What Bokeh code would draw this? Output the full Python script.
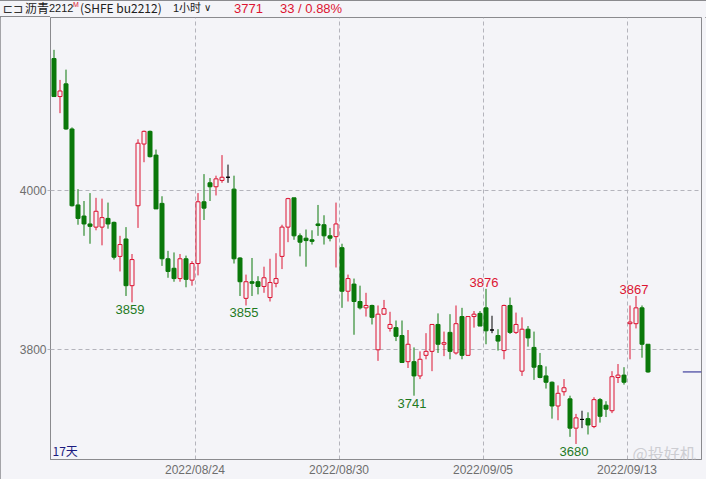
from bokeh.plotting import figure
from bokeh.models import Range1d, FixedTicker, ColumnDataSource, Label, Div
from bokeh.layouts import column
from bokeh.core.properties import value
from bokeh.embed import file_html
from bokeh.resources import INLINE

# ---------------- data (hourly bars, SHFE bu2212) ----------------
opens  = [4167, 4119, 4135, 4078, 3982, 3968, 3958, 3954, 3954, 3965,
          3960, 3917, 3939, 3880, 3981, 4059, 4075, 4045, 3984, 3914,
          3902, 3889, 3914, 3887, 3908, 3986, 4010, 4005, 4013, 4017,
          4002, 3915, 3864, 3885, 3885, 3879, 3865, 3883, 3917, 3954,
          3991, 3943, 3940, 3938, 3958, 3957, 3943, 3942, 3928, 3873,
          3882, 3860, 3852, 3855, 3799, 3844, 3826, 3827, 3817, 3784,
          3784, 3766, 3792, 3797, 3831, 3806, 3821, 3795, 3841, 3792,
          3841, 3845, 3852, 3824, 3817, 3798, 3855, 3821, 3772, 3825,
          3802, 3779, 3766, 3758, 3728, 3746, 3737, 3700, 3711, 3712,
          3702, 3736, 3729, 3722, 3764, 3767, 3832, 3832, 3852, 3806]
highs  = [4178, 4140, 4153, 4080, 4002, 3987, 3997, 3991, 3990, 3985,
          3961, 3943, 3954, 3920, 4065, 4076, 4076, 4052, 3993, 3924,
          3922, 3920, 3918, 3911, 3997, 4021, 4016, 4019, 4045, 4033,
          4019, 3916, 3894, 3915, 3892, 3904, 3914, 3921, 3957, 3991,
          3991, 3946, 3951, 3950, 3982, 3969, 3953, 3985, 3933, 3894,
          3889, 3880, 3871, 3856, 3855, 3862, 3847, 3836, 3836, 3824,
          3802, 3797, 3820, 3831, 3845, 3822, 3844, 3855, 3852, 3841,
          3848, 3848, 3876, 3842, 3825, 3856, 3865, 3846, 3840, 3829,
          3822, 3795, 3778, 3759, 3754, 3762, 3741, 3718, 3722, 3720,
          3739, 3738, 3734, 3772, 3781, 3777, 3855, 3867, 3855, 3806]
lows   = [4119, 4098, 4077, 3980, 3957, 3943, 3933, 3950, 3931, 3952,
          3913, 3898, 3867, 3859, 3953, 4036, 4042, 3977, 3905, 3890,
          3885, 3885, 3878, 3880, 3893, 3963, 3987, 3994, 4010, 4010,
          3908, 3867, 3855, 3867, 3869, 3871, 3860, 3878, 3901, 3935,
          3938, 3917, 3904, 3932, 3943, 3932, 3936, 3903, 3852, 3860,
          3818, 3850, 3841, 3831, 3785, 3843, 3822, 3810, 3783, 3776,
          3741, 3762, 3787, 3772, 3795, 3791, 3787, 3793, 3787, 3792,
          3827, 3829, 3806, 3820, 3798, 3787, 3819, 3819, 3766, 3803,
          3761, 3763, 3750, 3712, 3710, 3741, 3689, 3680, 3700, 3692,
          3700, 3707, 3714, 3719, 3757, 3755, 3787, 3826, 3789, 3770]
closes = [4119, 4126, 4078, 3981, 3965, 3958, 3955, 3974, 3966, 3958,
          3916, 3932, 3880, 3913, 4060, 4075, 4043, 3977, 3914, 3898,
          3889, 3914, 3888, 3908, 3986, 3978, 4005, 4015, 4017, 4017,
          3914, 3885, 3885, 3883, 3879, 3890, 3884, 3889, 3954, 3990,
          3943, 3935, 3937, 3936, 3956, 3943, 3940, 3958, 3873, 3889,
          3860, 3852, 3855, 3840, 3844, 3851, 3831, 3816, 3783, 3806,
          3766, 3787, 3797, 3831, 3806, 3808, 3797, 3832, 3792, 3841,
          3844, 3829, 3823, 3824, 3810, 3855, 3821, 3831, 3825, 3814,
          3777, 3764, 3758, 3728, 3744, 3751, 3700, 3713, 3711, 3704,
          3736, 3715, 3724, 3765, 3767, 3758, 3834, 3852, 3806, 3771]

date_labels = ["2022/08/24", "2022/08/30", "2022/09/05", "2022/09/13"]
date_first_bar = [24, 48, 72, 96]
price_ticks = [3800, 4000]
high_marks = [72, 97]
low_marks = [13, 32, 60, 87]
prev_settle = 3738

# ---------------- styling ----------------
UP = "#dc1432"
DOWN = "#0a780a"
FLAT = "#000000"
BG = "#f4f4f8"
GRIDC = "#b4b4bc"
AXC = "#8a8a8e"

W, H = 706, 479
HEAD = 17                               # header strip height (page px)
FL, FR, FT, FB = 50, 701, 17, 461       # frame edges in page pixels
BAR_PX = 6.0
PX_PER_PRICE = 0.795

x_start = -3.5 / BAR_PX
x_end = x_start + (FR - FL) / BAR_PX
y_end = 4000 + (191 - FT) / PX_PER_PRICE
y_start = y_end - (FB - FT) / PX_PER_PRICE

def dx(px):
    return x_start + (px - FL) / BAR_PX

def dy(py):
    return y_end - (py - FT) / PX_PER_PRICE

n = len(closes)
idx = list(range(n))
colors, fills = [], []
for o, c in zip(opens, closes):
    if c > o:
        colors.append(UP); fills.append(BG)
    elif c < o:
        colors.append(DOWN); fills.append(DOWN)
    else:
        colors.append(FLAT); fills.append(FLAT)

src = ColumnDataSource(dict(
    x=idx, o=opens, h=highs, l=lows, c=closes,
    top=[max(o, c) for o, c in zip(opens, closes)],
    bot=[min(o, c) for o, c in zip(opens, closes)],
    col=colors, fill=fills))

p = figure(width=W, height=H - HEAD, x_range=Range1d(x_start, x_end),
           y_range=Range1d(y_start, y_end), output_backend="svg",
           toolbar_location=None, min_border_left=FL, min_border_right=W - FR,
           min_border_top=FT - HEAD, min_border_bottom=H - FB,
           background_fill_color=BG, border_fill_color=BG,
           outline_line_color=AXC)

# axes
p.yaxis.ticker = FixedTicker(ticks=price_ticks, minor_ticks=[])
p.yaxis.axis_line_color = AXC
p.yaxis.major_tick_line_color = GRIDC
p.yaxis.major_tick_out = 3
p.yaxis.major_tick_in = 0
p.yaxis.major_label_standoff = 1
p.yaxis.major_label_text_color = "#6e6e6e"
p.yaxis.major_label_text_font = "Liberation Sans"
p.yaxis.major_label_text_font_size = "12px"

tick_pos = [b - 0.5 for b in date_first_bar]
p.xaxis.ticker = FixedTicker(ticks=tick_pos, minor_ticks=[])
p.xaxis.major_label_overrides = {t: lab for t, lab in zip(tick_pos, date_labels)}
p.xaxis.axis_line_color = AXC
p.xaxis.major_tick_out = 0
p.xaxis.major_tick_in = 0
p.xaxis.major_label_standoff = 3
p.xaxis.major_label_text_color = "#6e6e6e"
p.xaxis.major_label_text_font = "Liberation Sans"
p.xaxis.major_label_text_font_size = "12px"

for g in (p.xgrid, p.ygrid):
    g.grid_line_color = GRIDC
    g.grid_line_dash = "4 3"
    g.grid_line_width = 1

# candles
p.segment(x0="x", x1="x", y0="h", y1="l", color="col", line_width=1, source=src)
p.vbar(x="x", width=4.0 / BAR_PX, top="top", bottom="bot", fill_color="fill",
       line_color="col", line_width=1, source=src)

# high / low marks
hs = ColumnDataSource(dict(x=high_marks, y=[highs[i] for i in high_marks],
                           t=[str(highs[i]) for i in high_marks]))
ls = ColumnDataSource(dict(x=low_marks, y=[lows[i] for i in low_marks],
                           t=[str(lows[i]) for i in low_marks]))
p.text(x="x", y="y", text="t", source=hs, text_color=UP, text_align="center",
       text_baseline="bottom", x_offset=-2, y_offset=-2,
       text_font=value("Liberation Sans"), text_font_size="13px")
p.text(x="x", y="y", text="t", source=ls, text_color="#1f7a1f", text_align="center",
       text_baseline="top", x_offset=-2, y_offset=3,
       text_font=value("Liberation Sans"), text_font_size="13px")

# last price marker
p.segment(x0=[n + 4.8], x1=[x_end], y0=[closes[-1]], y1=[closes[-1]],
          color="#1c1c8c", line_width=1)

# bottom-left period tag and watermark (inside the frame)
def flabel(px, py, text, color, font, size):
    p.add_layout(Label(x=dx(px), y=dy(py), text=text, text_color=color, text_font=font,
                       text_font_size=size, text_align="left", text_baseline="middle"))
flabel(52, 452, "17天", "#1a1a80", "Noto Sans CJK SC", "12px")
flabel(632, 454, "@投好机", "#cdcdd2", "Noto Sans CJK SC", "16px")

# header strip
chg = closes[-1] - prev_settle
pct = chg / prev_settle * 100
def span(left, top, text, color, font, size):
    return (f'<span style="position:absolute;left:{left}px;top:{top}px;color:{color};'
            f'font-family:\'{font}\';font-size:{size}px;line-height:1;white-space:nowrap;">'
            f'{text}</span>')
parts = [
    span(3, 3, "\u228f\u2290", "#333333", "DejaVu Sans", 12),
    span(25, 2, "沥青", "#202020", "Noto Sans CJK SC", 12),
    span(49, 3, "2212", "#202020", "Liberation Sans", 11),
    span(73, 1, "M", UP, "Liberation Sans", 7),
    span(80, 2, "(SHFE bu2212)", "#202020", "Noto Sans CJK SC", 12),
    span(173, 3, "1", "#202020", "Liberation Sans", 11),
    span(179, 2, "小时", "#202020", "Noto Sans CJK SC", 11),
    span(204, 3, "\u2228", "#202020", "DejaVu Sans", 10),
    span(234, 2, f"{closes[-1]}", UP, "Liberation Sans", 13),
    span(280, 2, f"{chg:.0f} / {pct:.2f}%", UP, "Liberation Sans", 13),
    f'<span style="position:absolute;left:0;top:{HEAD-1}px;width:{FL}px;height:1px;background:{AXC};"></span>',
    f'<span style="position:absolute;left:0;top:0;width:{W}px;height:1px;background:{AXC};"></span>',
]
header = Div(text=(f'<div style="position:relative;width:{W}px;height:{HEAD}px;'
                   f'background:{BG};overflow:hidden;">' + "".join(parts) + '</div>'),
             width=W, height=HEAD, margin=0)

page = column(header, p, spacing=0, margin=0, width=W, height=H,
              styles={"outline": f"1px solid {AXC}", "outline-offset": "-1px",
                      "background": BG})

open("out.html", "w").write(file_html(page, INLINE))
